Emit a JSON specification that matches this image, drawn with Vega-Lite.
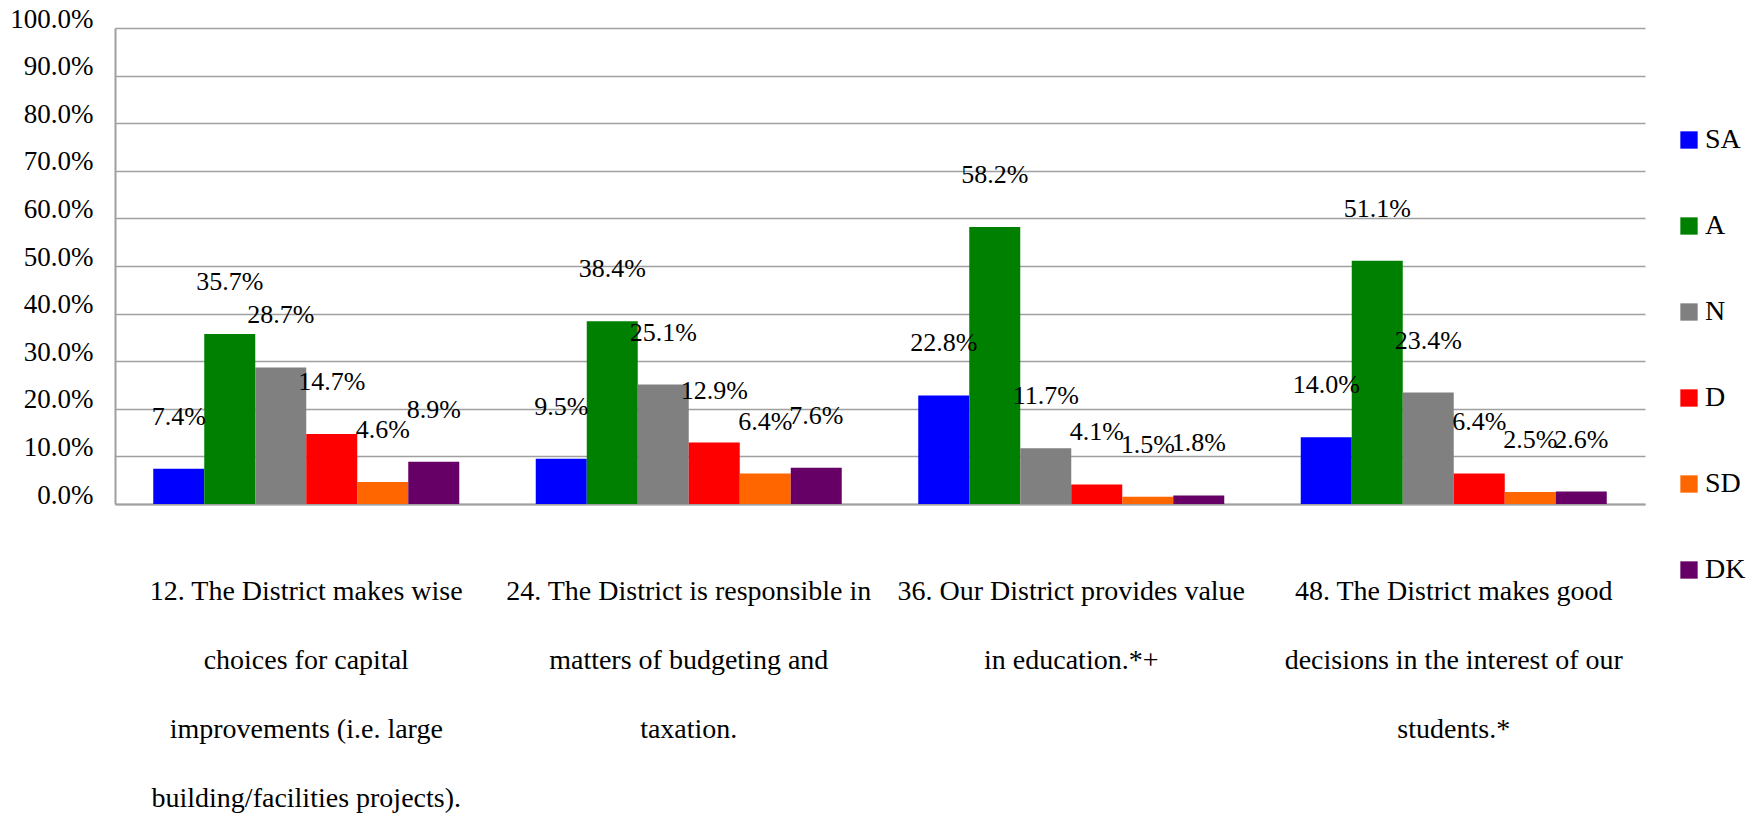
{
  "$schema": "https://vega.github.io/schema/vega-lite/v6.json",
  "width": 1530,
  "height": 476,
  "autosize": {"type": "none"},
  "padding": {"left": 115, "top": 28, "right": 107, "bottom": 324},
  "background": "white",
  "config": {
    "font": "Liberation Serif",
    "view": {"stroke": null},
    "text": {"font": "Liberation Serif"},
    "axis": {"labelFont": "Liberation Serif"},
    "legend": {"labelFont": "Liberation Serif"}
  },
  "data": {
    "values": [
      {"q": "12. The District makes wise|choices for capital|improvements (i.e. large|building/facilities projects).", "s": "SA", "v": 0.074},
      {"q": "12. The District makes wise|choices for capital|improvements (i.e. large|building/facilities projects).", "s": "A", "v": 0.357},
      {"q": "12. The District makes wise|choices for capital|improvements (i.e. large|building/facilities projects).", "s": "N", "v": 0.287},
      {"q": "12. The District makes wise|choices for capital|improvements (i.e. large|building/facilities projects).", "s": "D", "v": 0.147},
      {"q": "12. The District makes wise|choices for capital|improvements (i.e. large|building/facilities projects).", "s": "SD", "v": 0.046},
      {"q": "12. The District makes wise|choices for capital|improvements (i.e. large|building/facilities projects).", "s": "DK", "v": 0.089},
      {"q": "24. The District is responsible in|matters of budgeting and|taxation.", "s": "SA", "v": 0.095},
      {"q": "24. The District is responsible in|matters of budgeting and|taxation.", "s": "A", "v": 0.384},
      {"q": "24. The District is responsible in|matters of budgeting and|taxation.", "s": "N", "v": 0.251},
      {"q": "24. The District is responsible in|matters of budgeting and|taxation.", "s": "D", "v": 0.129},
      {"q": "24. The District is responsible in|matters of budgeting and|taxation.", "s": "SD", "v": 0.064},
      {"q": "24. The District is responsible in|matters of budgeting and|taxation.", "s": "DK", "v": 0.076},
      {"q": "36. Our District provides value|in education.*+", "s": "SA", "v": 0.228},
      {"q": "36. Our District provides value|in education.*+", "s": "A", "v": 0.582},
      {"q": "36. Our District provides value|in education.*+", "s": "N", "v": 0.117},
      {"q": "36. Our District provides value|in education.*+", "s": "D", "v": 0.041},
      {"q": "36. Our District provides value|in education.*+", "s": "SD", "v": 0.015},
      {"q": "36. Our District provides value|in education.*+", "s": "DK", "v": 0.018},
      {"q": "48. The District makes good|decisions in the interest of our|students.*", "s": "SA", "v": 0.140},
      {"q": "48. The District makes good|decisions in the interest of our|students.*", "s": "A", "v": 0.511},
      {"q": "48. The District makes good|decisions in the interest of our|students.*", "s": "N", "v": 0.234},
      {"q": "48. The District makes good|decisions in the interest of our|students.*", "s": "D", "v": 0.064},
      {"q": "48. The District makes good|decisions in the interest of our|students.*", "s": "SD", "v": 0.025},
      {"q": "48. The District makes good|decisions in the interest of our|students.*", "s": "DK", "v": 0.026}
    ]
  },
  "encoding": {
    "x": {
      "field": "q",
      "type": "nominal",
      "sort": null,
      "scale": {"paddingInner": 0.2, "paddingOuter": 0.1},
      "axis": {
        "title": null,
        "labelExpr": "split(datum.label, '|')",
        "labelAngle": 0,
        "labelFont": "Liberation Serif",
        "labelFontSize": 28,
        "labelLineHeight": 69,
        "labelLimit": 0,
        "labelPadding": 73,
        "labelColor": "black",
        "labelBaseline": "top",
        "ticks": false,
        "domainColor": "#a0a0a0",
        "domainWidth": 2
      }
    },
    "xOffset": {
      "field": "s",
      "type": "nominal",
      "sort": ["SA", "A", "N", "D", "SD", "DK"],
      "scale": {"paddingInner": 0, "paddingOuter": 0}
    },
    "y": {
      "field": "v",
      "type": "quantitative",
      "scale": {"domain": [0, 1], "nice": false},
      "axis": {
        "title": null,
        "values": [0, 0.1, 0.2, 0.3, 0.4, 0.5, 0.6, 0.7, 0.8, 0.9, 1.0],
        "format": ".1%",
        "labelFont": "Liberation Serif",
        "labelFontSize": 27,
        "labelColor": "black",
        "labelPadding": 22,
        "labelOffset": -9,
        "ticks": false,
        "grid": true,
        "gridColor": "#a0a0a0",
        "gridWidth": 1.5,
        "domainColor": "#a0a0a0",
        "domainWidth": 2
      }
    }
  },
  "layer": [
    {
      "mark": {"type": "bar"},
      "encoding": {
        "color": {
          "field": "s",
          "type": "nominal",
          "scale": {
            "domain": ["SA", "A", "N", "D", "SD", "DK"],
            "range": ["#0000FF", "#008000", "#808080", "#FF0000", "#FF6600", "#660066"]
          },
          "legend": {
            "title": null,
            "orient": "none",
            "legendX": 1560,
            "legendY": 98,
            "symbolType": "square",
            "symbolSize": 300,
            "symbolStrokeWidth": 0,
            "labelFont": "Liberation Serif",
            "labelFontSize": 28,
            "labelColor": "black",
            "labelOffset": 2,
            "rowPadding": 58
          }
        }
      }
    },
    {
      "mark": {"type": "text", "font": "Liberation Serif", "fontSize": 26, "color": "black", "baseline": "middle", "dy": -52},
      "encoding": {
        "text": {"field": "v", "type": "quantitative", "format": ".1%"}
      }
    }
  ]
}
